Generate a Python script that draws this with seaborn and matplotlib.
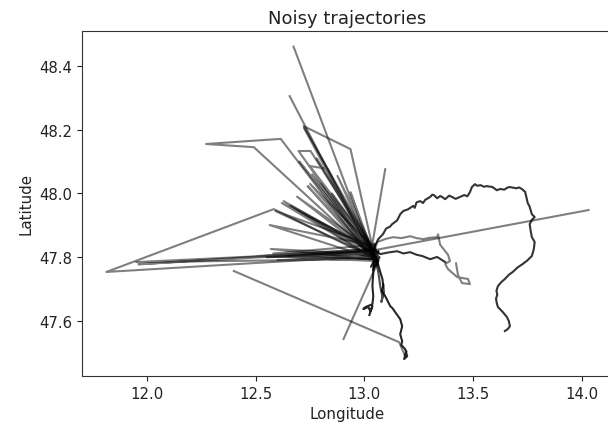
import matplotlib
matplotlib.use("Agg")
import matplotlib.pyplot as plt
import numpy as np
import pandas as pd
import seaborn as sns

# ---------------- data (longitude / latitude per trajectory) ----------------
noise1_lon = [12.674, 13.028, 11.950, 13.050, 12.876, 13.041, 12.509, 13.064, 13.045]
noise1_lat = [48.460, 47.820, 47.785, 47.794, 48.055, 47.826, 47.804, 47.788, 47.770]

noise2_lon = [12.656, 13.037, 11.812, 12.583, 13.050, 12.569, 13.018, 12.739, 13.037, 12.600, 13.055]
noise2_lat = [48.305, 47.804, 47.754, 47.951, 47.794, 47.826, 47.810, 48.023, 47.804, 47.790, 47.800]

noise3_lon = [13.041, 12.720, 12.936, 13.050, 12.647, 13.028, 12.628, 13.064, 12.904]
noise3_lat = [47.826, 48.211, 48.139, 47.794, 47.804, 47.820, 47.976, 47.788, 47.544]

noise4_lon = [13.018, 12.615, 12.271, 12.491, 13.037, 12.590, 13.032, 12.564, 13.050, 12.936, 13.028, 12.550, 13.060]
noise4_lat = [47.810, 48.171, 48.155, 48.145, 47.804, 47.945, 47.838, 47.901, 47.794, 48.004, 47.820, 47.800, 47.812]

noise5_lon = [13.050, 12.697, 12.752, 13.041, 12.748, 12.830, 13.037, 12.722, 13.064, 12.700, 13.030, 13.096]
noise5_lat = [47.794, 48.133, 48.133, 47.826, 48.086, 48.077, 47.804, 48.205, 47.788, 48.100, 47.815, 48.076]

noise6_lon = [14.032, 13.028, 11.960, 13.041, 12.620, 13.050, 12.580, 13.032, 12.750, 13.037, 12.640, 13.058]
noise6_lat = [47.948, 47.820, 47.778, 47.826, 47.970, 47.794, 47.812, 47.838, 48.030, 47.804, 47.815, 47.792]

noise7_lon = [13.045, 12.760, 13.030, 12.800, 13.055, 12.690, 13.040, 12.660, 13.048, 12.850, 13.035, 12.780, 13.050]
noise7_lat = [47.815, 48.060, 47.808, 48.030, 47.798, 47.990, 47.822, 47.962, 47.806, 48.000, 47.830, 48.110, 47.800]

noise8_lon = [12.399, 13.160, 13.172, 13.185]
noise8_lat = [47.757, 47.534, 47.515, 47.495]

east_gray_lon = [13.037, 13.060, 13.100, 13.133, 13.170, 13.211, 13.240, 13.271, 13.300, 13.335,
                 13.339, 13.349, 13.385, 13.394, 13.372, 13.385, 13.427, 13.477, 13.486, 13.450,
                 13.431, 13.422]
east_gray_lat = [47.804, 47.848, 47.858, 47.863, 47.860, 47.866, 47.860, 47.857, 47.861, 47.863,
                 47.872, 47.839, 47.808, 47.788, 47.779, 47.763, 47.738, 47.732, 47.716, 47.719,
                 47.744, 47.781]

east_loop_lon = [13.372, 13.335, 13.303, 13.266, 13.240, 13.211, 13.180, 13.151, 13.110, 13.073,
                 13.041, 13.064, 13.085, 13.092, 13.100, 13.118, 13.128, 13.150, 13.158, 13.165,
                 13.179, 13.200, 13.225, 13.232, 13.240, 13.257, 13.270, 13.280, 13.303, 13.312,
                 13.320, 13.335, 13.349, 13.360, 13.372, 13.390, 13.404, 13.420, 13.440, 13.460,
                 13.474, 13.486, 13.495, 13.509, 13.520, 13.535, 13.550, 13.564, 13.590, 13.610,
                 13.624, 13.645, 13.657, 13.670, 13.700, 13.712, 13.725, 13.740, 13.748, 13.752,
                 13.760, 13.771, 13.784, 13.772, 13.761, 13.765, 13.771, 13.784, 13.780, 13.771,
                 13.750, 13.729, 13.705, 13.683, 13.665, 13.647, 13.630, 13.615, 13.608, 13.612,
                 13.606, 13.610, 13.615, 13.635, 13.656, 13.665, 13.670, 13.660, 13.647]
east_loop_lat = [47.785, 47.801, 47.794, 47.804, 47.808, 47.816, 47.812, 47.819, 47.815, 47.810,
                 47.826, 47.857, 47.872, 47.880, 47.890, 47.896, 47.904, 47.915, 47.925, 47.935,
                 47.945, 47.950, 47.961, 47.955, 47.972, 47.976, 47.970, 47.980, 47.989, 47.996,
                 47.995, 47.985, 47.992, 47.988, 47.982, 47.993, 47.989, 47.983, 47.989, 47.995,
                 47.991, 48.004, 48.020, 48.029, 48.024, 48.026, 48.021, 48.023, 48.020, 48.010,
                 48.014, 48.012, 48.018, 48.020, 48.016, 48.019, 48.014, 48.005, 47.982, 47.970,
                 47.960, 47.935, 47.926, 47.918, 47.904, 47.885, 47.863, 47.848, 47.825, 47.804,
                 47.790, 47.779, 47.768, 47.754, 47.745, 47.732, 47.722, 47.710, 47.695, 47.683,
                 47.670, 47.655, 47.644, 47.630, 47.613, 47.600, 47.584, 47.575, 47.569]

south_lon = [13.037, 13.046, 13.060, 13.073, 13.083, 13.087, 13.080, 13.096, 13.119, 13.130,
             13.142, 13.165, 13.174, 13.165, 13.174, 13.170, 13.188, 13.197, 13.183, 13.193,
             13.188]
south_lat = [47.826, 47.804, 47.785, 47.754, 47.732, 47.710, 47.695, 47.678, 47.647, 47.640,
             47.628, 47.606, 47.584, 47.559, 47.537, 47.525, 47.512, 47.490, 47.481, 47.506,
             47.487]

south_b_lon = [13.046, 13.041, 13.037, 13.041, 13.037, 13.005, 12.995, 13.018, 13.028, 13.037,
               13.023]
south_b_lat = [47.804, 47.754, 47.710, 47.678, 47.653, 47.644, 47.638, 47.644, 47.631, 47.647,
               47.619]

south_c_lon = [13.050, 13.064, 13.073, 13.083, 13.078, 13.090, 13.087]
south_c_lat = [47.794, 47.754, 47.710, 47.675, 47.660, 47.690, 47.715]

center_lon = [13.025, 13.060, 13.030, 13.065, 13.040, 13.070, 13.035, 13.062, 13.045, 13.058]
center_lat = [47.835, 47.790, 47.770, 47.820, 47.760, 47.800, 47.812, 47.775, 47.842, 47.805]

trajectories = {
    "n1": (noise1_lon, noise1_lat),
    "n2": (noise2_lon, noise2_lat),
    "n3": (noise3_lon, noise3_lat),
    "n4": (noise4_lon, noise4_lat),
    "n5": (noise5_lon, noise5_lat),
    "n6": (noise6_lon, noise6_lat),
    "n7": (noise7_lon, noise7_lat),
    "n8": (noise8_lon, noise8_lat),
    "center": (center_lon, center_lat),
    "east_gray": (east_gray_lon, east_gray_lat),
    "east_loop": (east_loop_lon, east_loop_lat),
    "south": (south_lon, south_lat),
    "south_b": (south_b_lon, south_b_lat),
    "south_c": (south_c_lon, south_c_lat),
}

frames = []
for name, (lo, la) in trajectories.items():
    frames.append(pd.DataFrame({"lon": lo, "lat": la, "traj": name}))
df = pd.concat(frames, ignore_index=True)

# ---------------- style ----------------
alphas = {"east_loop": 0.8, "south": 0.85, "south_b": 0.85, "south_c": 0.7, "center": 0.8}

fig = plt.figure(figsize=(6.08, 4.31), dpi=100)
ax = fig.add_axes([82 / 608, (431 - 377) / 431, (612 - 82) / 608, (377 - 32) / 431])

for name in trajectories:
    sub = df[df["traj"] == name]
    sns.lineplot(data=sub, x="lon", y="lat", estimator=None, sort=False,
                 color="black", alpha=alphas.get(name, 0.5), lw=1.5, ax=ax)

ax.set_xlim(11.70, 14.14)
ax.set_ylim(47.428, 48.509)
ax.set_xticks([12.0, 12.5, 13.0, 13.5, 14.0])
ax.set_yticks([47.6, 47.8, 48.0, 48.2, 48.4])
ax.tick_params(labelsize=10.7, colors="#222222")
ax.set_xlabel("Longitude", fontsize=10.8, color="#222222")
ax.set_ylabel("Latitude", fontsize=10.8, color="#222222")
ax.set_title("Noisy trajectories", fontsize=13, color="#222222")
for s in ax.spines.values():
    s.set_color("#333333")

fig.savefig("out.png", dpi=100)
